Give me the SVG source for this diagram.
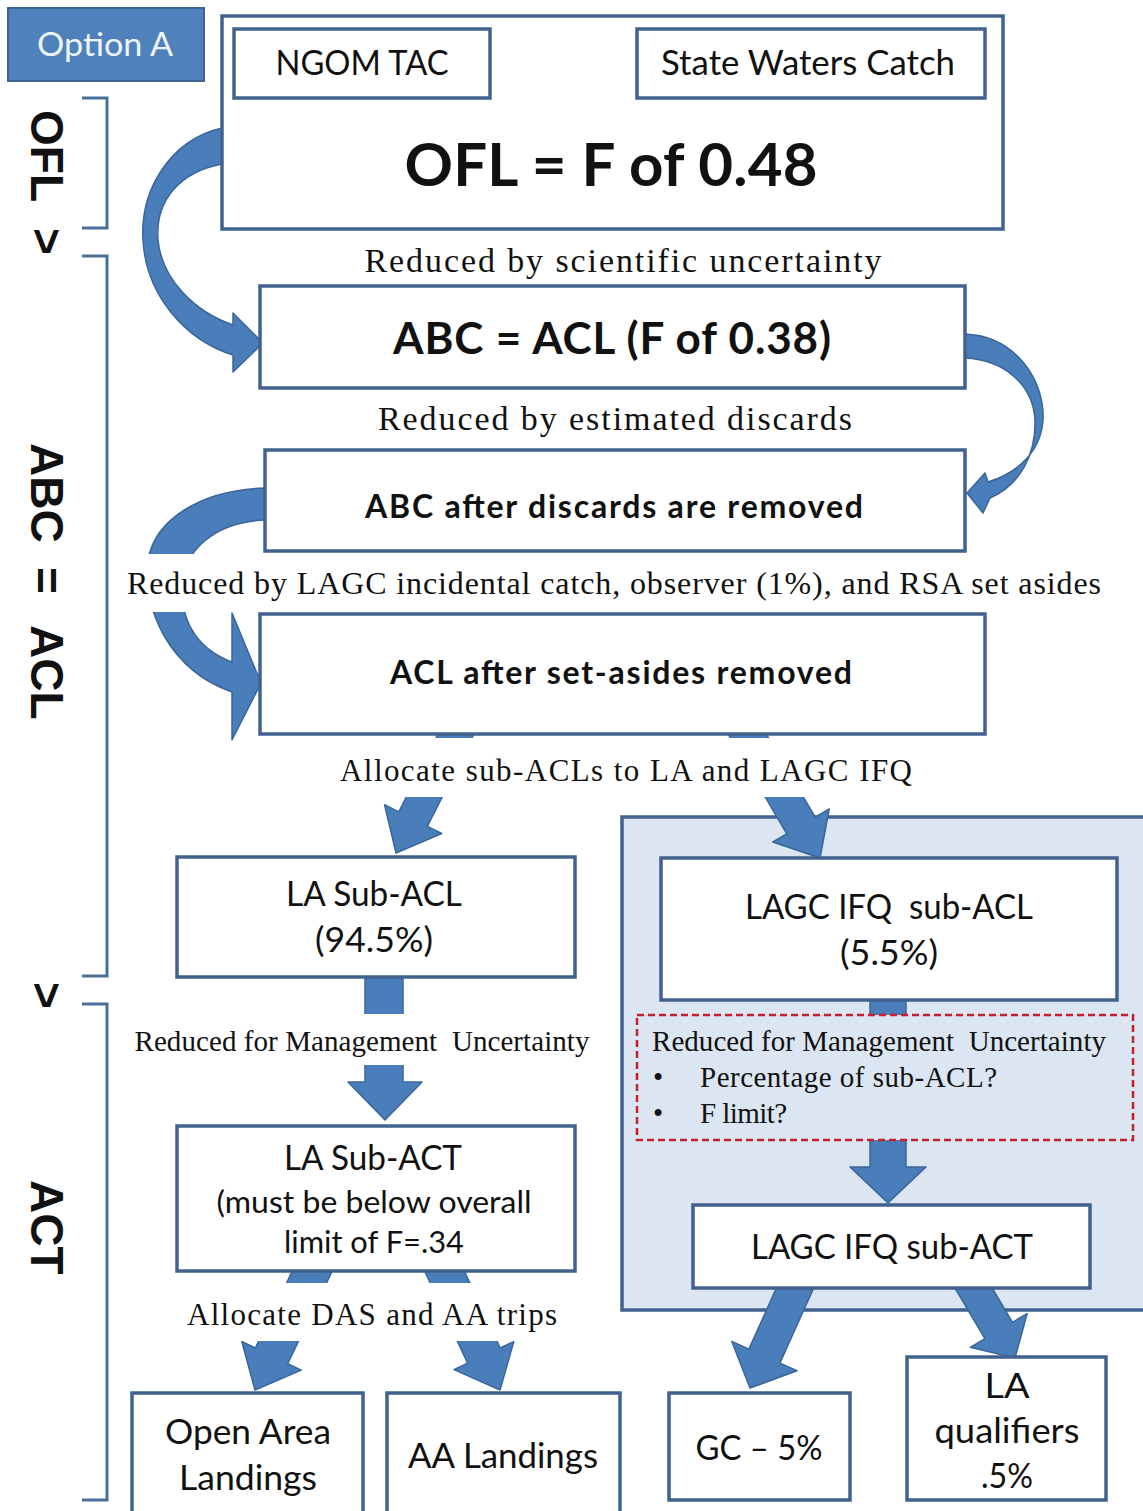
<svg xmlns="http://www.w3.org/2000/svg" width="1143" height="1511" viewBox="0 0 1143 1511">
<style>
.box{fill:#ffffff;stroke:#41628f;stroke-width:3.5}
.arr{fill:#4a7ebb;stroke:#3a659a;stroke-width:1.5;stroke-linejoin:round}
.brk{fill:none;stroke:#4a6e9a;stroke-width:3}
.strip{fill:#ffffff}
.sans{font-family:Lato,'Liberation Sans',sans-serif;font-size:34px;fill:#111;text-anchor:middle}
.bold{font-family:Lato,'Liberation Sans',sans-serif;font-weight:bold;fill:#111;text-anchor:middle}
.serif{font-family:'Liberation Serif','Times New Roman',serif;fill:#111}
.side{font-family:'Liberation Sans',Arial,sans-serif;font-weight:bold;font-size:46px;fill:#111}
</style>
<rect x="0" y="0" width="1143" height="1511" fill="#ffffff"/>

<g id="option-a">
<rect x="8" y="8" width="196" height="73" fill="#4f81bd" stroke="#3e6592" stroke-width="2"/>
<text x="105" y="56" class="sans" style="fill:#eef4fb;font-size:32px" textLength="136" lengthAdjust="spacingAndGlyphs">Option A</text>
</g>

<g id="side-labels">
<path class="brk" d="M82,98 H107 V228 H82"/>
<path class="brk" d="M82,256 H107 V976 H82"/>
<path class="brk" d="M82,1004 H107 V1500 H82"/>
<text class="side" transform="translate(31,110) rotate(90)">OFL</text>
<text class="side" transform="translate(31,228) rotate(90)">&gt;</text>
<text class="side" transform="translate(31,443) rotate(90)">ABC</text>
<text class="side" transform="translate(31,567) rotate(90)">=</text>
<text class="side" transform="translate(31,625) rotate(90)">ACL</text>
<text class="side" transform="translate(31,982) rotate(90)">&gt;</text>
<text class="side" transform="translate(31,1180) rotate(90)">ACT</text>
</g>

<g id="lagc-panel">
<rect x="622" y="817" width="540" height="493" fill="#dce6f2" stroke="#41628f" stroke-width="3.5"/>
</g>

<g id="connectors">
<path class="arr" d="M222,128 C170,140 140,190 143,240 C146,295 185,340 233,355 L233,372 L263,343 L233,313 L233,325 C195,312 162,280 158,240 C155,200 180,172 222,164 Z"/>
<path class="arr" d="M965,334 C1015,336 1045,380 1043,420 C1041,450 1020,472 988,482 L985,473 L967,493 L983,513 L990,498 C1020,485 1036,455 1035,420 C1033,385 1005,360 965,358 Z"/>
<path class="arr" d="M265,488 C200,490 155,520 148,560 C142,610 170,670 232,692 L232,740 L261,683 L232,613 L232,662 C200,650 182,625 182,590 C182,550 215,522 265,520 Z"/>
<polygon class="arr" points="451.3,707.8 398.8,811.9 384.5,804.7 396,853 441.7,833.5 427.4,826.3 479.9,722.2"/>
<polygon class="arr" points="721.8,723.3 786.8,833.8 772.8,842 820,858 829.2,809 815.2,817.2 750.2,706.7"/>
<polygon class="arr" points="365,960 365,1082 348,1082 385,1120 422,1082 403,1082 403,960"/>
<polygon class="arr" points="870,990 870,1167 850,1167 888,1203 926,1167 906,1167 906,990"/>
<polygon class="arr" points="303.8,1247.2 255.3,1348 241.8,1341.5 255,1390 301.2,1370.1 287.7,1363.6 336.2,1262.8"/>
<polygon class="arr" points="420.7,1262.6 467.6,1363.2 454,1369.6 500,1390 513.8,1341.6 500.2,1348 453.3,1247.4"/>
<polygon class="arr" points="792.1,1253 748.9,1349.1 731.8,1341.4 750,1388 797,1370.8 779.9,1363.1 823.1,1267"/>
<polygon class="arr" points="943.2,1268.2 984.9,1338.7 970.3,1347.3 1015,1358 1027.1,1313.7 1012.5,1322.3 970.8,1251.8"/>
</g>

<g id="label-strips">
<rect class="strip" x="118" y="554" width="990" height="58"/>
<rect class="strip" x="330" y="738" width="590" height="59"/>
<rect class="strip" x="130" y="1014" width="465" height="51"/>
<rect class="strip" x="180" y="1283" width="385" height="58"/>
</g>

<g id="ofl">
<rect class="box" x="222" y="16" width="781" height="213"/>
<text x="611" y="186" class="bold" style="font-size:60px" textLength="413">OFL = F of 0.48</text>
</g>
<g id="ngom-tac">
<rect class="box" x="234" y="29" width="256" height="69"/>
<text x="362" y="75" class="sans" textLength="173" lengthAdjust="spacingAndGlyphs">NGOM TAC</text>
</g>
<g id="state-waters">
<rect class="box" x="637" y="29" width="348" height="69"/>
<text x="808" y="75" class="sans" textLength="294" lengthAdjust="spacingAndGlyphs">State Waters Catch</text>
</g>
<g id="abc">
<rect class="box" x="260" y="286" width="705" height="102"/>
<text x="612" y="354" class="bold" style="font-size:44px" textLength="438">ABC = ACL (F of 0.38)</text>
</g>
<g id="abc-discards">
<rect class="box" x="265" y="450" width="700" height="101"/>
<text x="614" y="518" class="bold" style="font-size:32px" textLength="498">ABC after discards are removed</text>
</g>
<g id="acl-setasides">
<rect class="box" x="260" y="614" width="725" height="120"/>
<text x="621" y="684" class="bold" style="font-size:32px" textLength="462">ACL after set-asides removed</text>
</g>
<g id="la-sub-acl">
<rect class="box" x="177" y="857" width="398" height="120"/>
<text x="374" y="906" class="sans" textLength="176" lengthAdjust="spacingAndGlyphs">LA Sub-ACL</text>
<text x="374" y="952" class="sans" textLength="118" lengthAdjust="spacingAndGlyphs">(94.5%)</text>
</g>
<g id="lagc-sub-acl">
<rect class="box" x="661" y="858" width="456" height="142"/>
<text x="889" y="919" class="sans" textLength="288" lengthAdjust="spacingAndGlyphs" xml:space="preserve">LAGC IFQ  sub-ACL</text>
<text x="889" y="965" class="sans" textLength="98" lengthAdjust="spacingAndGlyphs">(5.5%)</text>
</g>
<g id="lagc-uncertainty">
<rect x="637" y="1015" width="496" height="125" fill="#dce6f2" stroke="#c8202a" stroke-width="2.5" stroke-dasharray="7 4"/>
<text x="652" y="1051" class="serif" style="font-size:29px" textLength="454" xml:space="preserve">Reduced for Management  Uncertainty</text>
<text x="653" y="1087" class="serif" style="font-size:29px">•</text>
<text x="700" y="1087" class="serif" style="font-size:29px" textLength="297">Percentage of sub-ACL?</text>
<text x="653" y="1123" class="serif" style="font-size:29px">•</text>
<text x="700" y="1123" class="serif" style="font-size:29px" textLength="87">F limit?</text>
</g>
<g id="la-sub-act">
<rect class="box" x="177" y="1126" width="398" height="145"/>
<text x="373" y="1170" class="sans" textLength="178" lengthAdjust="spacingAndGlyphs">LA Sub-ACT</text>
<text x="374" y="1213" class="sans" style="font-size:31px" textLength="315" lengthAdjust="spacingAndGlyphs">(must be below overall</text>
<text x="374" y="1253" class="sans" style="font-size:31px" textLength="180" lengthAdjust="spacingAndGlyphs">limit of F=.34</text>
</g>
<g id="lagc-sub-act">
<rect class="box" x="693" y="1205" width="397" height="83"/>
<text x="892" y="1259" class="sans" textLength="282" lengthAdjust="spacingAndGlyphs">LAGC IFQ sub-ACT</text>
</g>
<g id="open-area">
<rect class="box" x="132" y="1393" width="231" height="130"/>
<text x="248" y="1444" class="sans" textLength="166" lengthAdjust="spacingAndGlyphs">Open Area</text>
<text x="248" y="1490" class="sans" textLength="138" lengthAdjust="spacingAndGlyphs">Landings</text>
</g>
<g id="aa-landings">
<rect class="box" x="387" y="1393" width="233" height="130"/>
<text x="503" y="1468" class="sans" textLength="190" lengthAdjust="spacingAndGlyphs">AA Landings</text>
</g>
<g id="gc">
<rect class="box" x="669" y="1393" width="181" height="107"/>
<text x="759" y="1460" class="sans" textLength="127" lengthAdjust="spacingAndGlyphs">GC – 5%</text>
</g>
<g id="la-qualifiers">
<rect class="box" x="907" y="1357" width="199" height="143"/>
<text x="1007" y="1398" class="sans" textLength="45" lengthAdjust="spacingAndGlyphs">LA</text>
<text x="1007" y="1443" class="sans" textLength="145" lengthAdjust="spacingAndGlyphs">qualifiers</text>
<text x="1007" y="1488" class="sans" textLength="52" lengthAdjust="spacingAndGlyphs">.5%</text>
</g>

<g id="flow-labels">
<text x="623" y="272" class="serif" style="font-size:34px;text-anchor:middle" textLength="517">Reduced by scientific uncertainty</text>
<text x="615" y="430" class="serif" style="font-size:34px;text-anchor:middle" textLength="474">Reduced by estimated discards</text>
<text x="614" y="594" class="serif" style="font-size:32px;text-anchor:middle" textLength="974">Reduced by LAGC incidental catch, observer (1%), and RSA set asides</text>
<text x="626" y="781" class="serif" style="font-size:31px;text-anchor:middle" textLength="572">Allocate sub-ACLs to LA and LAGC IFQ</text>
<text x="362" y="1051" class="serif" style="font-size:29px;text-anchor:middle" textLength="455" xml:space="preserve">Reduced for Management  Uncertainty</text>
<text x="372" y="1325" class="serif" style="font-size:31px;text-anchor:middle" textLength="370">Allocate DAS and AA trips</text>
</g>
</svg>
